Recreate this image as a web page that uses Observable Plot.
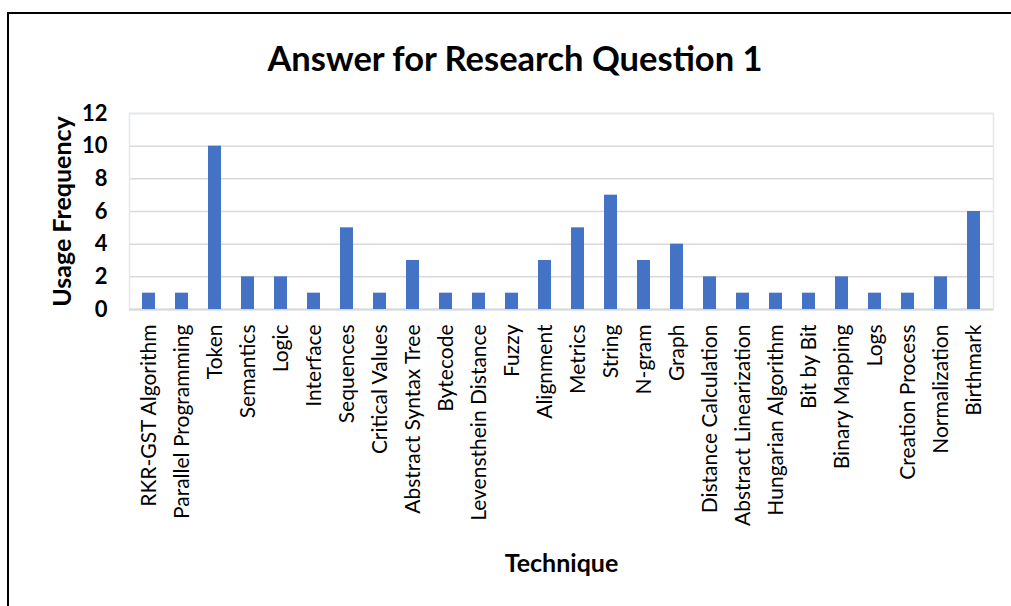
<!DOCTYPE html>
<html>
<head>
<meta charset="utf-8">
<script src="https://cdn.jsdelivr.net/npm/d3@7"></script>
<script src="https://cdn.jsdelivr.net/npm/@observablehq/plot@0.6"></script>
<style>
  html, body { margin: 0; padding: 0; background: #fff; }
  #wrap { position: relative; width: 1011px; height: 606px; overflow: hidden; font-family: Lato, "Open Sans", sans-serif; }
  #border { position: absolute; left: 7px; top: 12px; width: 1100px; height: 700px; border-left: 2px solid #000; border-top: 2px solid #000; box-sizing: border-box; }
  #title { position: absolute; left: 0; width: 1030px; top: 36px; text-align: center; font-weight: bold; font-size: 34.5px; color: #000; line-height: 44px; }
  #chart { position: absolute; left: 0; top: 100px; }
</style>
</head>
<body>
<div id="wrap">
  <div id="border"></div>
  <div id="title">Answer for Research Question 1</div>
  <div id="chart"></div>
</div>
<script>
const techniques = [
  "RKR-GST Algorithm", "Parallel Programming", "Token", "Semantics", "Logic",
  "Interface", "Sequences", "Critical Values", "Abstract Syntax Tree", "Bytecode",
  "Levensthein Distance", "Fuzzy", "Alignment", "Metrics", "String", "N-gram",
  "Graph", "Distance Calculation", "Abstract Linearization", "Hungarian Algorithm",
  "Bit by Bit", "Binary Mapping", "Logs", "Creation Process", "Normalization", "Birthmark"
];
const frequencies = [1, 1, 10, 2, 2, 1, 5, 1, 3, 1, 1, 1, 3, 5, 7, 3, 4, 2, 1, 1, 1, 2, 1, 1, 2, 6];
const yTicks = [0, 2, 4, 6, 8, 10, 12];
const yLabel = "Usage Frequency";
const xLabel = "Technique";

const data = techniques.map((t, i) => ({technique: t, value: frequencies[i]}));

const chart = Plot.plot({
  width: 1011,
  height: 506,
  marginTop: 13,
  marginLeft: 129,
  marginRight: 18,
  marginBottom: 297,
  style: {fontFamily: "Lato, 'Open Sans', sans-serif", background: "transparent"},
  x: {domain: techniques, paddingInner: 0.6, paddingOuter: 0.3, label: null},
  y: {domain: [0, 12], label: null},
  marks: [
    Plot.gridY(yTicks, {stroke: "#d9d9d9", strokeWidth: 1.5, strokeOpacity: 1}),
    Plot.frame({stroke: "#e3e7ee", strokeWidth: 1.5}),
    Plot.ruleY([0], {stroke: "#d9d9d9", strokeWidth: 2}),
    Plot.barY(data, {x: "technique", y: "value", fill: "#4472C4"}),
    Plot.axisY(yTicks, {tickSize: 0, tickPadding: 22, fontSize: 22, fontWeight: "bold", fill: "#000", label: null}),
    Plot.axisX({tickSize: 0, tickPadding: 15, tickRotate: -90, fontSize: 21, fill: "#000", label: null}),
    Plot.text([yLabel], {frameAnchor: "left", dx: -67, rotate: -90, fontSize: 25, fontWeight: "bold", fill: "#000", textAnchor: "middle", lineAnchor: "middle"}),
    Plot.text([xLabel], {frameAnchor: "bottom", dy: 254, fontSize: 25, fontWeight: "bold", fill: "#000", textAnchor: "middle", lineAnchor: "middle"})
  ]
});
document.getElementById("chart").appendChild(chart);
</script>
</body>
</html>
